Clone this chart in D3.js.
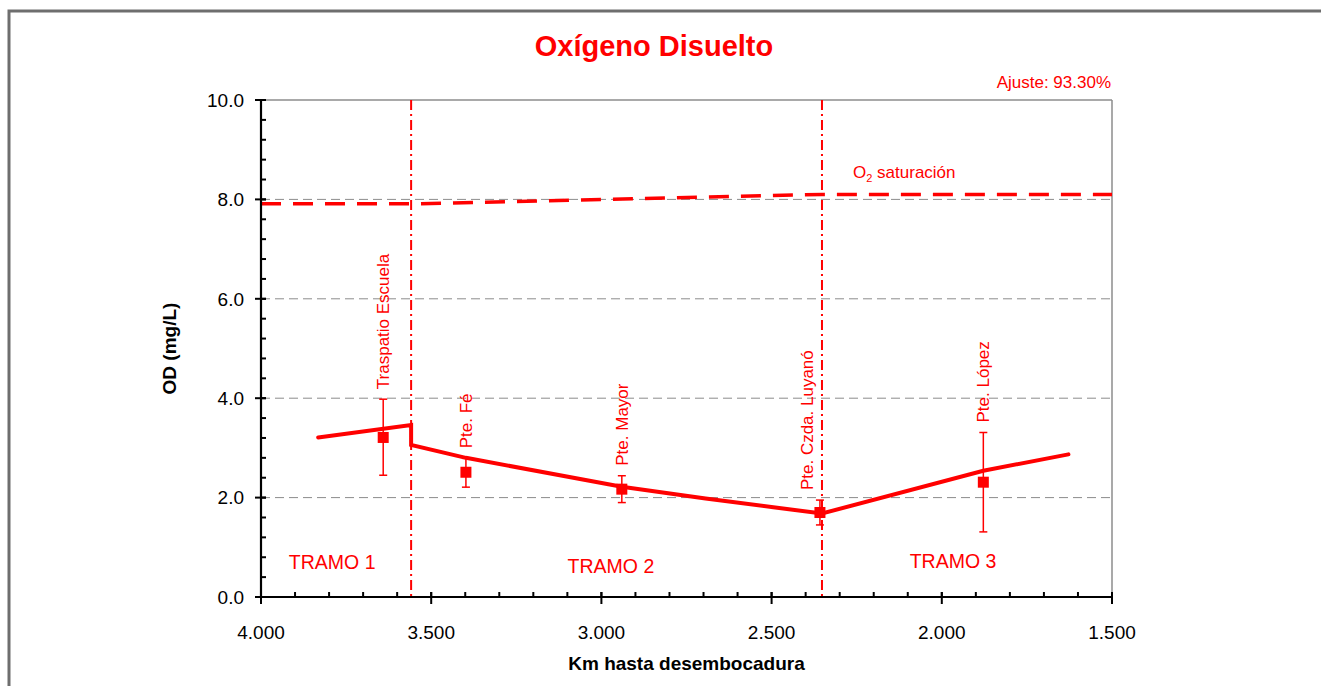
<!DOCTYPE html>
<html><head><meta charset="utf-8">
<script src="https://cdn.jsdelivr.net/npm/d3@7"></script>
<style>html,body{margin:0;padding:0;background:#fff;overflow:hidden}svg{display:block;font-family:"Liberation Sans",Arial,sans-serif}</style>
</head><body>
<svg id="c" width="1321" height="686"></svg>
<script>
// ---- data ----
const stations = ["Traspatio Escuela","Pte. Fé","Pte. Mayor","Pte. Czda. Luyanó","Pte. López"];
const stationKm = [3.641, 3.398, 2.940, 2.358, 1.878];
const odMean = [3.21, 2.51, 2.17, 1.70, 2.31];
const odHigh = [3.98, 2.79, 2.44, 1.95, 3.31];
const odLow  = [2.45, 2.21, 1.90, 1.45, 1.31];
const modelKm = [3.832, 3.559, 3.559, 3.398, 2.940, 2.694, 2.352, 1.878, 1.628];
const modelOD = [3.21, 3.46, 3.06, 2.80, 2.22, 1.98, 1.68, 2.54, 2.87];
const satKm = [4.0, 3.559, 2.352, 1.5];
const satOD = [7.91, 7.91, 8.10, 8.10];
const tramoBounds = [3.559, 2.352];
const tramoLabels = ["TRAMO 1","TRAMO 2","TRAMO 3"];
const tramoKm = [3.791, 2.972, 1.967];
const tramoOD = [0.56, 0.48, 0.58];
const xTicks = [4.0, 3.5, 3.0, 2.5, 2.0, 1.5];
const yTicks = [0, 2, 4, 6, 8, 10];
const title = "Oxígeno Disuelto";
const fitLabel = "Ajuste: 93.30%";

// ---- layout ----
const svg = d3.select("#c");
const red = "#ff0000";
const x = d3.scaleLinear().domain([4.0, 1.5]).range([261, 1112]);
const y = d3.scaleLinear().domain([0, 10]).range([597, 100]);

// outer frame
svg.append("rect").attr("x",9).attr("y",11).attr("width",1400).attr("height",800)
  .attr("fill","none").attr("stroke","#6e6e6e").attr("stroke-width",3);

// grid
const g = svg.append("g");
g.selectAll(".grid").data(yTicks.filter(d=>d>0 && d<10)).enter().append("line")
  .attr("x1",x(4.0)).attr("x2",x(1.5)).attr("y1",d=>y(d)).attr("y2",d=>y(d))
  .attr("stroke","#8c8c8c").attr("stroke-width",1).attr("stroke-dasharray","9,5");
g.append("line").attr("x1",x(4.0)).attr("x2",x(1.5)).attr("y1",y(10)).attr("y2",y(10))
  .attr("stroke","#8c8c8c").attr("stroke-width",1.5);
g.append("line").attr("x1",x(1.5)).attr("x2",x(1.5)).attr("y1",y(10)).attr("y2",y(0))
  .attr("stroke","#8c8c8c").attr("stroke-width",1.5);

// tramo boundaries
g.selectAll(".bd").data(tramoBounds).enter().append("line")
  .attr("x1",d=>x(d)).attr("x2",d=>x(d)).attr("y1",y(10)).attr("y2",y(0))
  .attr("stroke",red).attr("stroke-width",2).attr("stroke-dasharray","10,4,2,4");

// saturation line
const line = d3.line().x(d=>x(d[0])).y(d=>y(d[1]));
g.append("path").datum(satKm.map((k,i)=>[k,satOD[i]])).attr("d",line)
  .attr("fill","none").attr("stroke",red).attr("stroke-width",3.5).attr("stroke-dasharray","20,12");

// model line
g.append("path").datum(modelKm.map((k,i)=>[k,modelOD[i]])).attr("d",line)
  .attr("fill","none").attr("stroke",red).attr("stroke-width",4).attr("stroke-linejoin","miter").attr("stroke-linecap","round");

// error bars
const eb = g.selectAll(".eb").data(stations).enter().append("g");
eb.append("line").attr("x1",(d,i)=>x(stationKm[i])).attr("x2",(d,i)=>x(stationKm[i]))
  .attr("y1",(d,i)=>y(odHigh[i])).attr("y2",(d,i)=>y(odLow[i])).attr("stroke",red).attr("stroke-width",1.5);
eb.append("line").attr("x1",(d,i)=>x(stationKm[i])-4).attr("x2",(d,i)=>x(stationKm[i])+4)
  .attr("y1",(d,i)=>y(odHigh[i])).attr("y2",(d,i)=>y(odHigh[i])).attr("stroke",red).attr("stroke-width",1.5);
eb.append("line").attr("x1",(d,i)=>x(stationKm[i])-4).attr("x2",(d,i)=>x(stationKm[i])+4)
  .attr("y1",(d,i)=>y(odLow[i])).attr("y2",(d,i)=>y(odLow[i])).attr("stroke",red).attr("stroke-width",1.5);
eb.append("rect").attr("x",(d,i)=>x(stationKm[i])-5.5).attr("y",(d,i)=>y(odMean[i])-5.5)
  .attr("width",11).attr("height",11).attr("fill",red);

// station labels (rotated)
eb.append("text").attr("transform",(d,i)=>{
    const sx = x(stationKm[i]) + (i===3 ? -13 : 0);
    return `translate(${sx},${y(odHigh[i])-10}) rotate(-90)`;})
  .attr("dy","0.35em").attr("fill",red).attr("font-size",17).text(d=>d);

// tramo labels
g.selectAll(".tr").data(tramoLabels).enter().append("text")
  .attr("x",(d,i)=>x(tramoKm[i])).attr("y",(d,i)=>y(tramoOD[i]))
  .attr("text-anchor","middle").attr("fill",red).attr("font-size",19.5).text(d=>d);

// saturation label
const sl = g.append("text").attr("x",853).attr("y",178).attr("fill",red).attr("font-size",17);
sl.append("tspan").text("O");
sl.append("tspan").attr("font-size",11).attr("dy",4).text("2");
sl.append("tspan").attr("dy",-4).text(" saturación");

// axes
const yAxis = svg.append("g");
yAxis.append("line").attr("x1",x(4)).attr("x2",x(4)).attr("y1",y(10)).attr("y2",y(0)).attr("stroke","#000").attr("stroke-width",2.2);
const yMinor = d3.range(0, 10.01, 0.4);
yAxis.selectAll(".ym").data(yMinor).enter().append("line")
  .attr("x1",x(4)).attr("x2",x(4)+5).attr("y1",d=>y(d)).attr("y2",d=>y(d)).attr("stroke","#000").attr("stroke-width",2);
yAxis.selectAll(".yM").data(yTicks).enter().append("line")
  .attr("x1",x(4)-6).attr("x2",x(4)+5).attr("y1",d=>y(d)).attr("y2",d=>y(d)).attr("stroke","#000").attr("stroke-width",2);
yAxis.selectAll(".yl").data(yTicks).enter().append("text")
  .attr("x",x(4)-17).attr("y",d=>y(d)).attr("dy","0.36em").attr("text-anchor","end")
  .attr("font-size",19).attr("fill","#000").text(d=>d3.format(".1f")(d));

const xAxis = svg.append("g");
xAxis.append("line").attr("x1",x(4)).attr("x2",x(1.5)).attr("y1",y(0)).attr("y2",y(0)).attr("stroke","#000").attr("stroke-width",2.2);
const xMinor = d3.range(15, 41, 1).map(d=>d/10);
xAxis.selectAll(".xm").data(xMinor).enter().append("line")
  .attr("x1",d=>x(d)).attr("x2",d=>x(d)).attr("y1",y(0)).attr("y2",y(0)-5).attr("stroke","#000").attr("stroke-width",2);
xAxis.selectAll(".xM").data(xTicks).enter().append("line")
  .attr("x1",d=>x(d)).attr("x2",d=>x(d)).attr("y1",y(0)-5).attr("y2",y(0)+7).attr("stroke","#000").attr("stroke-width",2);
xAxis.selectAll(".xl").data(xTicks).enter().append("text")
  .attr("x",d=>x(d)).attr("y",y(0)+42).attr("text-anchor","middle")
  .attr("font-size",19).attr("fill","#000").text(d=>d3.format(".3f")(d));

// titles
svg.append("text").attr("x",654).attr("y",56).attr("text-anchor","middle").attr("font-weight","bold")
  .attr("font-size",29).attr("fill",red).text(title);
svg.append("text").attr("x",1111).attr("y",88).attr("text-anchor","end").attr("font-size",17).attr("fill",red).text(fitLabel);
svg.append("text").attr("transform",`translate(176,${(y(0)+y(10))/2}) rotate(-90)`).attr("text-anchor","middle")
  .attr("font-weight","bold").attr("font-size",19).attr("fill","#000").text("OD (mg/L)");
svg.append("text").attr("x",(x(4)+x(1.5))/2).attr("y",670).attr("text-anchor","middle")
  .attr("font-weight","bold").attr("font-size",19).attr("fill","#000").text("Km hasta desembocadura");
</script>
</body></html>
